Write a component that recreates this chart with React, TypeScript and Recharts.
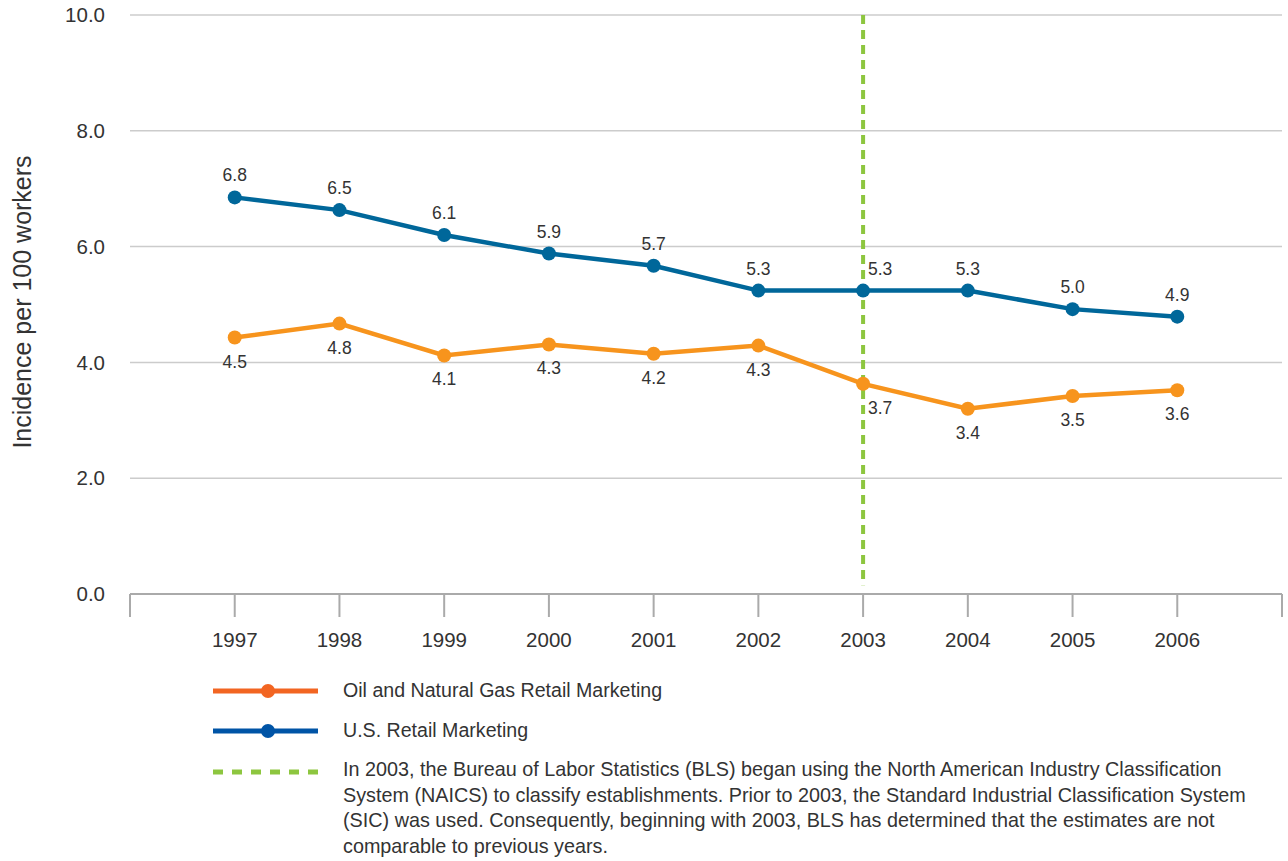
import { LineChart, Line, XAxis, YAxis, CartesianGrid, ReferenceLine, LabelList, Label } from 'recharts';

const years = [1997, 1998, 1999, 2000, 2001, 2002, 2003, 2004, 2005, 2006];
const axisTicks = [1996, 1997, 1998, 1999, 2000, 2001, 2002, 2003, 2004, 2005, 2006, 2007];
const yTicks = [0, 2, 4, 6, 8, 10];

// U.S. Retail Marketing (blue)
const retailValues = [6.85, 6.63, 6.2, 5.88, 5.67, 5.24, 5.24, 5.24, 4.92, 4.79];
const retailLabels = ['6.8', '6.5', '6.1', '5.9', '5.7', '5.3', '5.3', '5.3', '5.0', '4.9'];

// Oil and Natural Gas Retail Marketing (orange)
const oilGasValues = [4.43, 4.67, 4.12, 4.31, 4.15, 4.29, 3.63, 3.2, 3.42, 3.52];
const oilGasLabels = ['4.5', '4.8', '4.1', '4.3', '4.2', '4.3', '3.7', '3.4', '3.5', '3.6'];

const breakYear = 2003;

const noteLines = [
  'In 2003, the Bureau of Labor Statistics (BLS) began using the North American Industry Classification',
  'System (NAICS) to classify establishments. Prior to 2003, the Standard Industrial Classification System',
  '(SIC) was used. Consequently, beginning with 2003, BLS has determined that the estimates are not',
  'comparable to previous years.',
];

const FONT = '"Liberation Sans", Arial, sans-serif';
const TEXT = '#333333';
const BLUE = '#00679a';
const ORANGE = '#f7941d';
const GREEN = '#8dc63f';

const data = years.map((year, i) => ({
  year,
  retail: retailValues[i],
  oilGas: oilGasValues[i],
  retailLabel: retailLabels[i],
  oilGasLabel: oilGasLabels[i],
}));

const makeLabel = (offsetY: number) => (props: any) => {
  const x = props.x ?? props.viewBox?.x;
  const y = props.y ?? props.viewBox?.y;
  const dx = data[props.index]?.year === breakYear ? 17 : 0;
  return (
    <text
      x={x + dx}
      y={y + offsetY}
      textAnchor="middle"
      dominantBaseline="central"
      fontSize={17.5}
      fontFamily={FONT}
      fill={TEXT}
    >
      {props.value}
    </text>
  );
};

const renderYTitle = () => (
  <text
    x={22}
    y={302}
    transform="rotate(-90 22 302)"
    textAnchor="middle"
    dominantBaseline="central"
    fontSize={25}
    fontFamily={FONT}
    fill={TEXT}
  >
    Incidence per 100 workers
  </text>
);

function LegendRow({ color, dashed, top }: { color: string; dashed?: boolean; top: number }) {
  return (
    <svg width={110} height={20} style={{ position: 'absolute', left: 211, top: top - 10 }}>
      {dashed ? (
        <line x1={2} y1={10} x2={108} y2={10} stroke={color} strokeWidth={5} strokeDasharray="10 9" />
      ) : (
        <>
          <line x1={2} y1={10} x2={107} y2={10} stroke={color} strokeWidth={5} />
          <circle cx={57} cy={10} r={7} fill={color} />
        </>
      )}
    </svg>
  );
}

export default function App() {
  return (
    <div style={{ position: 'absolute', left: 0, top: 0, width: 1288, height: 861, background: '#fff', fontFamily: FONT }}>
      <LineChart width={1288} height={654} data={data} margin={{ top: 15, right: 6, left: 0, bottom: 0 }}>
        <CartesianGrid vertical={false} stroke="#cccccc" strokeWidth={1.5} />
        <XAxis
          dataKey="year"
          type="number"
          domain={[1996, 2007]}
          ticks={axisTicks}
          interval={0}
          height={60}
          tickSize={23}
          tickMargin={15}
          stroke="#aaaaaa"
          strokeWidth={2}
          tickFormatter={(v: number) => (years.includes(v) ? String(v) : '')}
          tick={{ fontSize: 20.5, fill: TEXT, fontFamily: FONT }}
        />
        <YAxis
          domain={[0, 10]}
          ticks={yTicks}
          width={130}
          axisLine={false}
          tickLine={false}
          tickSize={6}
          tickMargin={19}
          tickFormatter={(v: number) => v.toFixed(1)}
          tick={{ fontSize: 20.5, fill: TEXT, fontFamily: FONT }}
        >
          <Label content={renderYTitle} />
        </YAxis>
        <ReferenceLine
          segment={[{ x: breakYear, y: 10 }, { x: breakYear, y: 0.15 }]}
          stroke={GREEN}
          strokeWidth={4}
          strokeDasharray="9 6"
        />
        <Line
          dataKey="oilGas"
          stroke={ORANGE}
          strokeWidth={4.5}
          dot={{ r: 7, fill: ORANGE, stroke: ORANGE, strokeWidth: 0 }}
          activeDot={false}
          isAnimationActive={false}
        >
          <LabelList dataKey="oilGasLabel" content={makeLabel(24)} />
        </Line>
        <Line
          dataKey="retail"
          stroke={BLUE}
          strokeWidth={4.5}
          dot={{ r: 7, fill: BLUE, stroke: BLUE, strokeWidth: 0 }}
          activeDot={false}
          isAnimationActive={false}
        >
          <LabelList dataKey="retailLabel" content={makeLabel(-22)} />
        </Line>
      </LineChart>

      <LegendRow color="#f26522" top={691} />
      <div style={{ position: 'absolute', left: 343, top: 677, fontSize: 19.6, lineHeight: '26px', color: TEXT, whiteSpace: 'nowrap' }}>
        Oil and Natural Gas Retail Marketing
      </div>
      <LegendRow color="#0054a6" top={731} />
      <div style={{ position: 'absolute', left: 343, top: 717, fontSize: 19.6, lineHeight: '26px', color: TEXT, whiteSpace: 'nowrap' }}>
        U.S. Retail Marketing
      </div>
      <LegendRow color={GREEN} dashed top={772} />
      <div style={{ position: 'absolute', left: 343, top: 757, fontSize: 19.8, lineHeight: '25.7px', color: TEXT, whiteSpace: 'nowrap' }}>
        {noteLines.map((line) => (
          <div key={line}>{line}</div>
        ))}
      </div>
    </div>
  );
}
